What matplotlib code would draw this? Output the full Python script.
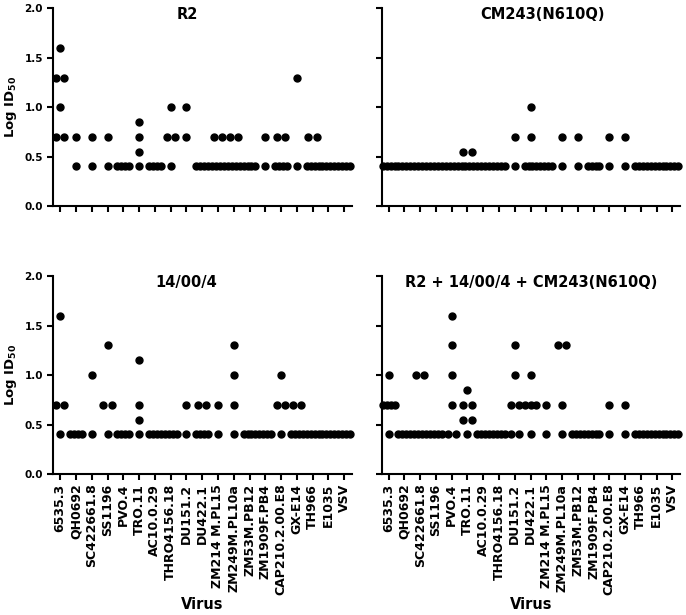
import matplotlib.pyplot as plt
import numpy as np

plt.rcParams['font.family'] = 'DejaVu Sans'
plt.rcParams['font.weight'] = 'bold'
plt.rcParams['mathtext.fontset'] = 'dejavusans'

viruses = ['6535.3', 'QH0692', 'SC422661.8', 'SS1196', 'PVO.4', 'TRO.11',
           'AC10.0.29', 'THRO4156.18', 'DU151.2', 'DU422.1', 'ZM214 M.PL15',
           'ZM249M.PL10a', 'ZM53M.PB12', 'ZM1909F.PB4', 'CAP210.2.00.E8',
           'GX-E14', 'TH966', 'E1035', 'VSV']

low = [0.4, 0.4, 0.4, 0.4]  # below detection, several sera

# Log ID50 values per virus, one list per serum panel
r2 = [[1.6, 1.3, 1.3, 1.0, 0.7, 0.7], [0.7, 0.4], [0.7, 0.4], [0.7, 0.4],
      low, [0.85, 0.7, 0.55, 0.4], low, [1.0, 0.7, 0.7, 0.4], [1.0, 0.7],
      low, [0.7, 0.7] + low, [0.7, 0.7] + low, low, [0.7, 0.4],
      [0.7, 0.7] + low, [1.3, 0.4], [0.7, 0.7] + low, low, low]

cm243 = [low, low, low, low, low, [0.55, 0.55] + low, low, low, [0.7, 0.4],
         [1.0, 0.7] + low, low, [0.7, 0.4], [0.7, 0.4], low, [0.7, 0.4],
         [0.7, 0.4], low, low, low]

s14004 = [[1.6, 0.7, 0.7, 0.4], low, [1.0, 0.4], [1.3, 0.7, 0.7, 0.4], low,
          [1.15, 0.7, 0.55, 0.4], low, low, [0.7, 0.4], [0.7, 0.7] + low,
          [0.7, 0.4], [1.3, 1.0, 0.7, 0.4], low, low, [1.0, 0.7, 0.7, 0.4],
          [0.7, 0.7] + low, low, low, low]

combo = [[1.0, 0.7, 0.7, 0.7, 0.7, 0.4], low, [1.0, 1.0] + low, low,
         [1.6, 1.3, 1.0, 0.7, 0.4, 0.4], [0.85, 0.7, 0.7, 0.55, 0.55, 0.4],
         low, low, [1.3, 1.0, 0.7, 0.7, 0.4, 0.4], [1.0, 0.7, 0.7, 0.7, 0.4],
         [0.7, 0.4], [1.3, 1.3, 0.7, 0.4], low, low, [0.7, 0.4], [0.7, 0.4],
         low, low, low]

panels = [r2, cm243, s14004, combo]
titles = ['R2', 'CM243(N610Q)', '14/00/4', 'R2 + 14/00/4 + CM243(N610Q)']
title_x = [0.448, 0.54, 0.445, 0.50]


def spread_points(values):
    # column scatter: equal values are spread side by side around the column
    xs, ys = [], []
    for i, vals in enumerate(values):
        for v in sorted(set(vals)):
            n = vals.count(v)
            step = min(0.52, 0.75 / max(n - 1, 1))
            offs = (np.arange(n) - (n - 1) / 2) * step
            xs.extend(i + offs)
            ys.extend([v] * n)
    return np.array(xs), np.array(ys)


fig = plt.figure(figsize=(6.86, 6.15), dpi=100)
boxes = [[0.0777, 0.665, 0.435, 0.3215], [0.5564, 0.665, 0.4348, 0.3215],
         [0.0777, 0.2293, 0.435, 0.3215], [0.5564, 0.2293, 0.4348, 0.3215]]

for k, data in enumerate(panels):
    ax = fig.add_axes(boxes[k])
    xs, ys = spread_points(data)
    ax.plot(xs, ys, 'o', color='black', ms=5, clip_on=False, zorder=3)

    ax.set_xlim(-0.44, 18.48)
    ax.set_ylim(0, 2)
    ax.set_xticks(range(len(viruses)))
    ax.set_yticks([0, 0.5, 1.0, 1.5, 2.0])
    for side in ['top', 'right']:
        ax.spines[side].set_visible(False)
    for side in ['left', 'bottom']:
        ax.spines[side].set_linewidth(1.5)
    ax.tick_params(width=1.5, length=4, direction='out')
    ax.tick_params(axis='y', pad=3.5)
    ax.tick_params(axis='x', pad=3)

    if k >= 2:
        ax.set_xticklabels(viruses, rotation=90, fontsize=9, fontweight='bold')
        ax.set_xlabel('Virus', fontsize=10.5, fontweight='bold')
        ax.xaxis.set_label_coords(0.5, -0.62)
    else:
        ax.set_xticklabels([])

    if k % 2 == 0:
        ax.set_yticklabels(['0.0', '0.5', '1.0', '1.5', '2.0'], fontsize=7.5,
                           fontweight='bold')
        ax.set_ylabel(r'Log ID$_{\mathbf{50}}$', fontsize=9.5, fontweight='bold',
                      va='center')
        ax.yaxis.set_label_coords(-0.143, 0.5)
    else:
        ax.set_yticklabels([])

    ax.text(title_x[k], 0.968, titles[k], transform=ax.transAxes, ha='center',
            va='center', fontsize=10.5, fontweight='bold')

fig.savefig('out.png', dpi=100)
